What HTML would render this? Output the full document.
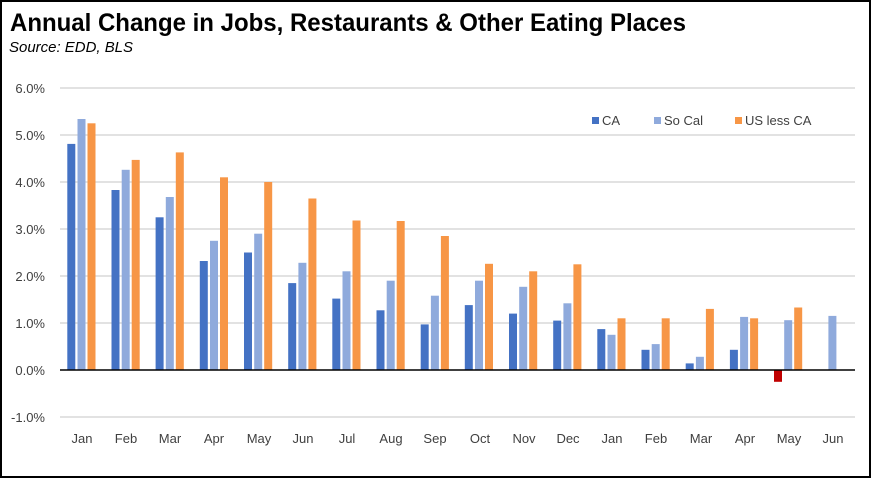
<!DOCTYPE html>
<html><head><meta charset="utf-8"><style>
html,body{margin:0;padding:0;background:#fff}
svg{display:block;font-family:"Liberation Sans",sans-serif}
</style></head><body>
<svg id="s" width="872" height="479" viewBox="0 0 872 479" xmlns="http://www.w3.org/2000/svg">
<rect x="1" y="1" width="869" height="476" fill="#fff" stroke="#000" stroke-width="2"/>
<text x="10" y="31" font-size="25" font-weight="bold" textLength="676" lengthAdjust="spacingAndGlyphs">Annual Change in Jobs, Restaurants &amp; Other Eating Places</text>
<text x="9" y="52" font-size="15" font-style="italic" textLength="124" lengthAdjust="spacingAndGlyphs">Source:  EDD, BLS</text>
<g stroke="#d9d9d9" stroke-width="1.5">
<line x1="60" x2="855" y1="88" y2="88"/><line x1="60" x2="855" y1="135" y2="135"/>
<line x1="60" x2="855" y1="182" y2="182"/><line x1="60" x2="855" y1="229" y2="229"/>
<line x1="60" x2="855" y1="276" y2="276"/><line x1="60" x2="855" y1="323" y2="323"/>
<line x1="60" x2="855" y1="417" y2="417"/>
</g>
<g font-size="13" fill="#404040" text-anchor="end">
<text x="45" y="93">6.0%</text><text x="45" y="140">5.0%</text><text x="45" y="187">4.0%</text>
<text x="45" y="234">3.0%</text><text x="45" y="281">2.0%</text><text x="45" y="328">1.0%</text>
<text x="45" y="375">0.0%</text><text x="45" y="422">-1.0%</text>
</g>
<g id="bars"></g>
<line x1="60" x2="855" y1="370" y2="370" stroke="#000" stroke-width="1.5"/>
<g font-size="13" fill="#404040" text-anchor="middle">
<text x="82" y="443">Jan</text><text x="126" y="443">Feb</text><text x="170" y="443">Mar</text>
<text x="214" y="443">Apr</text><text x="259" y="443">May</text><text x="303" y="443">Jun</text>
<text x="347" y="443">Jul</text><text x="391" y="443">Aug</text><text x="435" y="443">Sep</text>
<text x="480" y="443">Oct</text><text x="524" y="443">Nov</text><text x="568" y="443">Dec</text>
<text x="612" y="443">Jan</text><text x="656" y="443">Feb</text><text x="701" y="443">Mar</text>
<text x="745" y="443">Apr</text><text x="789" y="443">May</text><text x="833" y="443">Jun</text>
</g>
<g font-size="13" fill="#404040">
<rect x="592" y="117" width="7" height="7" fill="#4472c4"/><text x="602" y="125">CA</text>
<rect x="654" y="117" width="7" height="7" fill="#8faadc"/><text x="664" y="125">So Cal</text>
<rect x="735" y="117" width="7" height="7" fill="#f79646"/><text x="745" y="125">US less CA</text>
</g>
</svg>
<script>
var ca=[4.81,3.83,3.25,2.32,2.5,1.85,1.52,1.27,0.97,1.38,1.2,1.05,0.87,0.43,0.14,0.43,-0.25,null];
var sc=[5.34,4.26,3.68,2.75,2.9,2.28,2.1,1.9,1.58,1.9,1.77,1.42,0.75,0.55,0.28,1.13,1.06,1.15];
var us=[5.25,4.47,4.63,4.1,4.0,3.65,3.18,3.17,2.85,2.26,2.1,2.25,1.1,1.1,1.3,1.1,1.33,null];
var g=document.getElementById('bars'),h='';
function bar(x,v,c){if(v==null)return '';var y0=370,y=370-v*47;var t=Math.min(y,y0),hh=Math.abs(y-y0);
return '<rect x="'+x.toFixed(1)+'" y="'+t.toFixed(1)+'" width="8" height="'+hh.toFixed(1)+'" fill="'+c+'"/>';}
for(var i=0;i<18;i++){var x0=60+i*44.17+7.3;
h+=bar(x0,ca[i],(ca[i]!=null&&ca[i]<0)?'#c00000':'#4472c4');
h+=bar(x0+10.2,sc[i],'#8faadc');h+=bar(x0+20.2,us[i],'#f79646');}
g.innerHTML=h;
</script>
</body></html>
